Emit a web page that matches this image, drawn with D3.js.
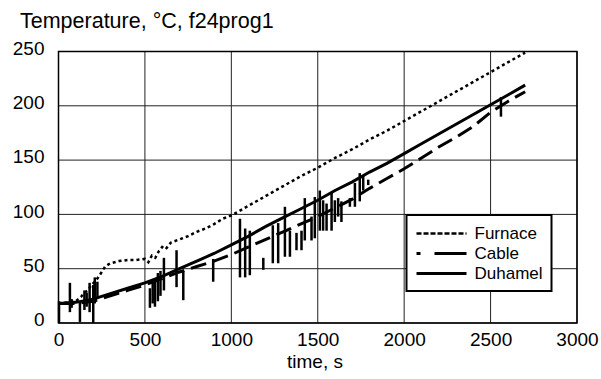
<!DOCTYPE html>
<html>
<head>
<meta charset="utf-8">
<script src="https://cdn.jsdelivr.net/npm/d3@7"></script>
<style>
  body { margin: 0; background: #fff; }
  text { font-family: "Liberation Sans", Arial, sans-serif; fill: #000; }
</style>
</head>
<body>
<div id="chart"></div>
<script>
// [time s, temperature °C]
const furnace = [
  [0,18],[50,19],[100,20],[130,24],[150,28],[170,30],[190,35],[210,38],[230,42],[250,47],
  [270,52],[300,55],[350,57],[400,58],[450,58],[500,59],[520,56],[540,62],[560,60],[580,66],
  [600,70],[620,68],[650,74],[700,77],[750,80],[800,84],[850,87],[900,91],[950,96],[1000,99],
  [1100,108],[1200,117],[1300,126],[1400,135],[1500,143],[1600,152],[1700,160],[1800,169],
  [1900,177],[2000,186],[2100,195],[2200,204],[2300,213],[2400,222],[2500,231],[2600,240],[2700,249]
];
const cable = [
  [0,18],[100,18],[200,20],[300,25],[400,30],[500,35],[600,41],[700,47],[800,52],[900,57],
  [1000,63],[1100,70],[1200,77],[1300,84],[1400,91],[1500,98],[1600,106],[1700,114],[1800,124],
  [1900,133],[2000,142],[2100,152],[2200,162],[2300,171],[2400,181],[2500,194],[2600,204],[2700,213]
];
// [time s, low °C, high °C] noisy excursions of the cable reading
const cableSpikes = [
  [3,0,20],[66,10,37],[76,14,22],[124,1,20],[150,12,30],[163,15,28],[180,10,37],[201,0,35],
  [210,18,42],[225,22,38],[529,14,32],[545,18,40],[558,15,40],[575,20,46],[590,25,48],[610,30,60],
  [683,33,67],[722,21,48],[895,38,59],[1050,42,96],[1080,42,87],[1107,44,85],[1185,49,60],
  [1240,55,90],[1271,55,92],[1310,61,107],[1339,61,85],[1377,67,83],[1406,67,85],[1425,76,115],
  [1464,76,98],[1483,78,116],[1512,85,122],[1531,85,113],[1551,85,110],[1580,85,120],[1599,93,113],
  [1618,98,115],[1637,93,112],[1686,107,115],[1715,107,129],[1743,112,138],[1763,122,136],
  [1792,127,132],[2560,190,208]
];
const duhamel = [
  [0,18],[100,19],[200,22],[300,27],[400,32],[500,37],[600,43],[700,50],[800,57],[900,64],
  [1000,72],[1100,80],[1200,89],[1300,97],[1400,105],[1500,113],[1600,122],[1700,130],[1800,139],
  [1900,147],[2000,156],[2100,165],[2200,174],[2300,183],[2400,192],[2500,201],[2600,210],[2700,219]
];
const xTicks = [0, 500, 1000, 1500, 2000, 2500, 3000];
const yTicks = [0, 50, 100, 150, 200, 250];
const legendNames = ["Furnace", "Cable", "Duhamel"];

const margin = { top: 51.5, right: 24, bottom: 56, left: 58.5 };
const width = 601 - margin.left - margin.right;
const height = 379 - margin.top - margin.bottom;

const x = d3.scaleLinear().domain([0, 3000]).range([0, width]);
const y = d3.scaleLinear().domain([0, 250]).range([height, 0]);

const root = d3.select("#chart")
    .append("svg")
    .attr("width", 601)
    .attr("height", 379);

root.append("text")
    .attr("x", 20)
    .attr("y", 28)
    .style("font-size", "21.5px")
    .text("Temperature, °C, f24prog1");

const svg = root.append("g")
    .attr("transform", `translate(${margin.left},${margin.top})`);

// grid
svg.append("g")
    .selectAll("line")
    .data(xTicks)
    .join("line")
    .attr("x1", d => x(d)).attr("x2", d => x(d))
    .attr("y1", 0).attr("y2", height)
    .attr("stroke", "#222")
    .attr("stroke-width", 1);

svg.append("g")
    .selectAll("line")
    .data(yTicks)
    .join("line")
    .attr("x1", 0).attr("x2", width)
    .attr("y1", d => y(d)).attr("y2", d => y(d))
    .attr("stroke", "#222")
    .attr("stroke-width", 1);

// axes labels
const xAxis = svg.append("g")
    .attr("transform", `translate(0,${height})`)
    .call(d3.axisBottom(x).tickValues(xTicks).tickFormat(d3.format("d")).tickSize(0).tickPadding(10))
    .style("font-size", "19px");
xAxis.select(".domain").remove();
xAxis.selectAll("text").attr("fill", "#000").style("font-family", "Liberation Sans, Arial, sans-serif");

const yAxis = svg.append("g")
    .call(d3.axisLeft(y).tickValues(yTicks).tickFormat(d3.format("d")).tickSize(0).tickPadding(14))
    .style("font-size", "19px");
yAxis.select(".domain").remove();
yAxis.selectAll("text").attr("fill", "#000").attr("dy", "0.15em").style("font-family", "Liberation Sans, Arial, sans-serif");

root.append("text")
    .attr("x", 315)
    .attr("y", 368)
    .attr("text-anchor", "middle")
    .style("font-size", "19px")
    .text("time, s");

const line = d3.line()
    .x(d => x(d[0]))
    .y(d => y(d[1]));

svg.append("path")
    .datum(furnace)
    .attr("fill", "none")
    .attr("stroke", "#000")
    .attr("stroke-width", 2.5)
    .attr("stroke-dasharray", "3,3")
    .attr("d", line);

svg.append("g")
    .selectAll("line")
    .data(cableSpikes)
    .join("line")
    .attr("x1", d => x(d[0])).attr("x2", d => x(d[0]))
    .attr("y1", d => y(d[1])).attr("y2", d => y(d[2]))
    .attr("stroke", "#000")
    .attr("stroke-width", 2.5);

svg.append("path")
    .datum(cable)
    .attr("fill", "none")
    .attr("stroke", "#000")
    .attr("stroke-width", 3)
    .attr("stroke-dasharray", "16,7")
    .attr("d", line);

svg.append("path")
    .datum(duhamel)
    .attr("fill", "none")
    .attr("stroke", "#000")
    .attr("stroke-width", 3)
    .attr("d", line);

// frame
svg.append("rect")
    .attr("width", width)
    .attr("height", height)
    .attr("fill", "none")
    .attr("stroke", "#000")
    .attr("stroke-width", 1.5);

// legend
const legend = root.append("g")
    .attr("transform", "translate(406.5,215)");

legend.append("rect")
    .attr("width", 145)
    .attr("height", 76)
    .attr("fill", "#fff")
    .attr("stroke", "#000")
    .attr("stroke-width", 2);

const dashes = ["5,2", "4,14,40", null];
const row = legend.selectAll(".row")
    .data(legendNames)
    .join("g")
    .attr("transform", (d, i) => `translate(0,${18.5 + i * 20})`);

row.append("line")
    .attr("x1", 10).attr("x2", 60)
    .attr("stroke", "#000")
    .attr("stroke-width", (d, i) => i === 0 ? 2.5 : 3)
    .attr("stroke-dasharray", (d, i) => dashes[i]);

row.append("text")
    .attr("x", 68)
    .attr("dy", "0.35em")
    .style("font-size", "17px")
    .text(d => d);
</script>
</body>
</html>
